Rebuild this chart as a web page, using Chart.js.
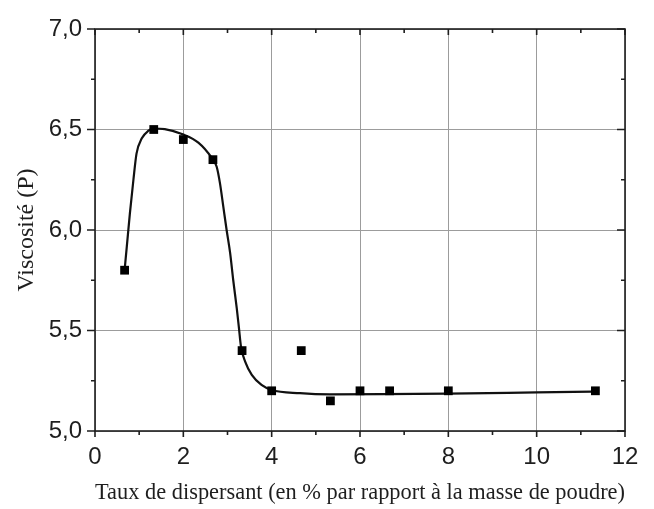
<!DOCTYPE html>
<html lang="fr">
<head>
<meta charset="utf-8">
<title>Viscosité en fonction du taux de dispersant</title>
<script src="https://cdn.jsdelivr.net/npm/chart.js@4.4.1/dist/chart.umd.min.js"></script>
<style>
  html, body { margin: 0; padding: 0; background: #fff; }
  #wrap { width: 654px; height: 509px; }
</style>
</head>
<body>
<div id="wrap"><canvas id="chart"></canvas></div>
<script>
// mesures : taux de dispersant (% massique) et viscosité (P)
const tauxDispersant = [0.67, 1.33, 2.0, 2.67, 3.33, 4.0, 4.67, 5.33, 6.0, 6.67, 8.0, 11.33];
const viscosite = [5.8, 6.5, 6.45, 6.35, 5.4, 5.2, 5.4, 5.15, 5.2, 5.2, 5.2, 5.2];

// courbe d'ajustement tracée sur les mesures
const ajustX = [0.67, 0.72, 0.79, 0.87, 0.94, 1.06, 1.21, 1.32, 1.58, 2.0, 2.34, 2.64, 2.755, 2.83, 2.905, 2.98, 3.06, 3.13, 3.21, 3.26, 3.305, 3.4, 3.55, 3.77, 4.0, 4.64, 5.32, 6.5, 8.0, 10.0, 11.33];
const ajustY = [5.8, 5.917, 6.083, 6.25, 6.38, 6.456, 6.494, 6.505, 6.502, 6.475, 6.435, 6.36, 6.315, 6.232, 6.116, 6.0, 5.885, 5.75, 5.61, 5.51, 5.42, 5.345, 5.279, 5.229, 5.204, 5.188, 5.182, 5.183, 5.186, 5.192, 5.196];

// graduations
const xTicks = [0, 2, 4, 6, 8, 10, 12];
const xMinor = [1, 3, 5, 7, 9, 11];
const yTicks = [5.0, 5.5, 6.0, 6.5, 7.0];
const yMinor = [5.25, 5.75, 6.25, 6.75];

const encre = '#1e1e1e';

// cadre fermé + petites graduations (sortantes à gauche/en bas, rentrantes en haut/à droite)
const cadre = {
  id: 'cadre',
  afterDraw(chart) {
    const { ctx, chartArea: a, scales: { x, y } } = chart;
    ctx.save();
    ctx.strokeStyle = encre;
    ctx.lineWidth = 1.6;
    ctx.strokeRect(a.left, a.top, a.right - a.left, a.bottom - a.top);
    ctx.beginPath();
    const tx = (v, len) => {
      const px = x.getPixelForValue(v);
      ctx.moveTo(px, a.bottom); ctx.lineTo(px, a.bottom + len);
      ctx.moveTo(px, a.top); ctx.lineTo(px, a.top + len);
    };
    const ty = (v, len) => {
      const py = y.getPixelForValue(v);
      ctx.moveTo(a.left, py); ctx.lineTo(a.left - len, py);
      ctx.moveTo(a.right, py); ctx.lineTo(a.right - len, py);
    };
    xTicks.forEach(v => tx(v, 6));
    xMinor.forEach(v => tx(v, 4));
    yTicks.forEach(v => ty(v, 8));
    yMinor.forEach(v => ty(v, 4));
    ctx.stroke();
    ctx.restore();
  }
};

const ctx = document.getElementById('chart').getContext('2d');

new Chart(ctx, {
  type: 'scatter',
  data: {
    datasets: [
      {
        label: 'Mesures',
        data: tauxDispersant.map((t, i) => ({ x: t, y: viscosite[i] })),
        pointStyle: 'rect',
        pointRadius: 6.2,
        pointHoverRadius: 6.2,
        backgroundColor: '#000',
        borderColor: '#000',
        borderWidth: 0,
      },
      {
        label: 'Ajustement',
        data: ajustX.map((t, i) => ({ x: t, y: ajustY[i] })),
        showLine: true,
        pointRadius: 0,
        borderColor: '#111',
        borderWidth: 2.2,
        cubicInterpolationMode: 'monotone',
      },
    ],
  },
  options: {
    responsive: true,
    maintainAspectRatio: false,
    animation: false,
    events: [],
    layout: {
      padding: { top: 29, right: 29, left: 0, bottom: 0 },
    },
    plugins: {
      legend: { display: false },
      tooltip: { enabled: false },
    },
    scales: {
      x: {
        type: 'linear',
        min: 0,
        max: 12,
        afterBuildTicks: s => { s.ticks = xTicks.map(v => ({ value: v })); },
        afterFit: s => { s.height = 78; },
        grid: { color: '#9c9c9c', lineWidth: 1, drawTicks: false },
        border: { display: false },
        ticks: {
          padding: 12,
          color: encre,
          font: { family: 'Liberation Sans, Arial, sans-serif', size: 24 },
          callback: v => String(v),
        },
        title: {
          display: true,
          text: 'Taux de dispersant (en % par rapport à la masse de poudre)',
          color: encre,
          font: { family: 'Liberation Serif, Times New Roman, serif', size: 24 },
          padding: { top: 0, bottom: 2 },
        },
      },
      y: {
        type: 'linear',
        min: 5,
        max: 7,
        afterBuildTicks: s => { s.ticks = yTicks.map(v => ({ value: v })); },
        afterFit: s => { s.width = 95; },
        grid: { color: '#9c9c9c', lineWidth: 1, drawTicks: false },
        border: { display: false },
        ticks: {
          padding: 13,
          color: encre,
          font: { family: 'Liberation Sans, Arial, sans-serif', size: 24 },
          callback: v => v.toFixed(1).replace('.', ','),
        },
        title: {
          display: true,
          text: 'Viscosité (P)',
          color: encre,
          font: { family: 'Liberation Serif, Times New Roman, serif', size: 24 },
          padding: { top: 12, bottom: 0 },
        },
      },
    },
  },
  plugins: [cadre],
});
</script>
</body>
</html>
